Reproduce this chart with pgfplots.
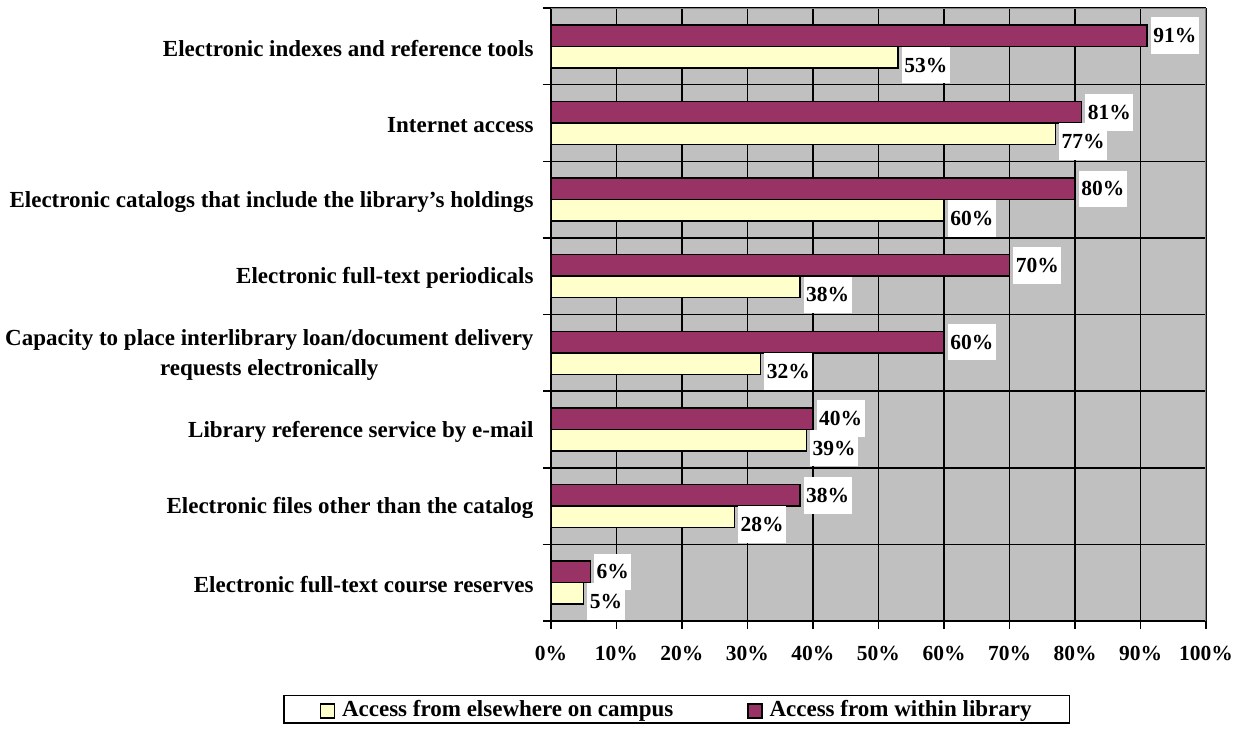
\documentclass[border=0pt]{standalone}
\usepackage{fontspec}
\setmainfont{Liberation Serif}
\usepackage{pgfplots}
\pgfplotsset{compat=1.18}
\definecolor{maroon}{HTML}{993366}
\definecolor{cream}{HTML}{FFFFCC}
\definecolor{silver}{HTML}{C0C0C0}
\newcommand{\lblfont}{\fontsize{21.5}{25}\selectfont\bfseries}
\newcommand{\catfont}{\fontsize{23}{29.5}\selectfont\bfseries}

\begin{document}
\begin{tikzpicture}[font=\lblfont]
\path[use as bounding box] (-551pt,-109pt) rectangle (687pt,621pt);
\begin{axis}[
    at={(0,0)}, anchor=south west,
    scale only axis, width=655pt, height=613pt,
    xbar=0pt, bar width=0.28,
    xmin=0, xmax=100, ymin=-0.5, ymax=7.5,
    axis x line*=bottom, axis y line*=left,
    axis line style={black, line width=1.5pt, -},
    axis background/.style={fill=silver},
    /pgf/number format/assume math mode=true,
    xtick={0,10,...,100},
    xticklabel={\pgfmathprintnumber{\tick}\%},
    x tick label style={yshift=-14pt},
    ytick={-0.5,0.5,...,7.5}, yticklabels={},
    xmajorgrids, ymajorgrids,
    grid style={black, line width=1.5pt},
    tick style={black, line width=1.5pt},
    tick align=outside, major tick length=8pt,
    tick label style={font=\lblfont},
    extra y ticks={0,...,7},
    extra y tick labels={
        {Electronic full-text course reserves},
        {Electronic files other than the catalog},
        {Library reference service by e-mail},
        {Capacity to place interlibrary loan/document delivery\\requests electronically},
        {Electronic full-text periodicals},
        {Electronic catalogs that include the library’s holdings},
        {Internet access},
        {Electronic indexes and reference tools}},
    extra y tick style={major tick length=0pt, grid=none,
        yticklabel style={align=center, xshift=-14pt, yshift=-2pt, font=\catfont}},
    point meta=x,
    nodes near coords={\pgfmathprintnumber{\pgfplotspointmeta}\%},
    every node near coord/.append style={anchor=west, fill=white,
        text=black, font=\lblfont, inner xsep=2.5pt, inner ysep=11pt, xshift=3pt},
    legend style={at={(0.192,0)}, anchor=north, yshift=-73.5pt,
        draw=black, line width=1.5pt, legend columns=2,
        font=\catfont, inner xsep=36pt, inner ysep=3pt,
        /tikz/every even column/.append style={column sep=72pt}},
    legend cell align=left,
]
\addplot[fill=cream, draw=black, line width=1.5pt, bar shift=-0.14,
    every node near coord/.append style={yshift=-8pt},
    legend image code/.code={\draw[fill=cream, draw=black, line width=1.2pt] (0pt,-9pt) rectangle (14pt,5pt);}]
    coordinates {(5,0) (28,1) (39,2) (32,3) (38,4) (60,5) (77,6) (53,7)};
\addlegendentry{\hspace{5pt}Access from elsewhere on campus}
\addplot[fill=maroon, draw=black, line width=1.5pt, bar shift=0.14,
    legend image code/.code={\draw[fill=maroon, draw=black, line width=1.2pt] (0pt,-9pt) rectangle (14pt,5pt);}]
    coordinates {(6,0) (38,1) (40,2) (60,3) (70,4) (80,5) (81,6) (91,7)};
\addlegendentry{\hspace{5pt}Access from within library}
\draw[gray, line width=2pt] (rel axis cs:0,1) -- (rel axis cs:1,1) -- (rel axis cs:1,0);
\end{axis}
\end{tikzpicture}
\end{document}
